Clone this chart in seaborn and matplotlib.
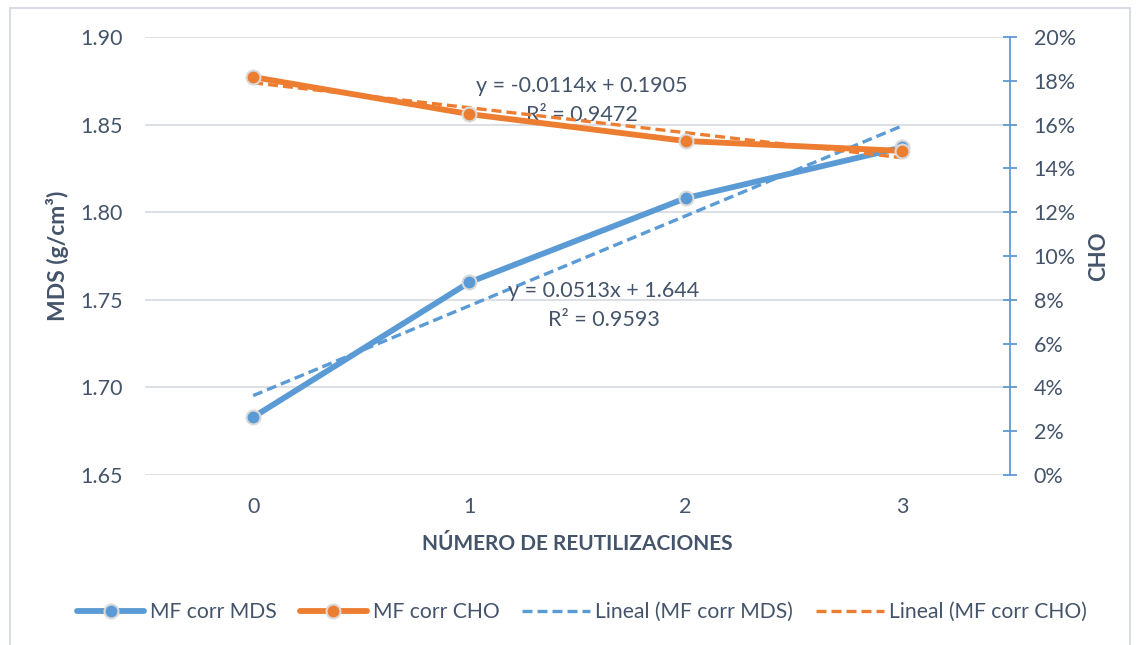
import numpy as np
import pandas as pd
import seaborn as sns
import matplotlib.pyplot as plt
from matplotlib.lines import Line2D
from matplotlib.patches import Rectangle
from matplotlib.ticker import PercentFormatter

# data
reuses = [0, 1, 2, 3]
mds = [1.683, 1.760, 1.808, 1.837]
cho = [0.1817, 0.1648, 0.1525, 0.1480]

# trendline coefficients shown on the chart (x = 1..4 in Excel)
mds_slope, mds_icpt = 0.0513, 1.644
cho_slope, cho_icpt = -0.0114, 0.1905

blue = "#5B9BD5"
orange = "#ED7D31"
txt = "#44546A"
grid = "#D9DDE3"

sns.set_theme(style="white")
plt.rcParams["font.family"] = ["Lato", "DejaVu Sans"]
plt.rcParams["text.color"] = txt

df = pd.DataFrame({"reuses": reuses, "mds": mds, "cho": cho})
xs = np.array(reuses)
df["mds_trend"] = mds_slope * (xs + 1) + mds_icpt
df["cho_trend"] = cho_slope * (xs + 1) + cho_icpt

fig = plt.figure(figsize=(11.4, 6.45), dpi=100)
ax = fig.add_axes([145 / 1140, 1 - 475 / 645, (1010 - 145) / 1140, (475 - 37) / 645])
ax2 = ax.twinx()

mk = dict(marker="o", markersize=10, markeredgecolor="#D9D9D9", markeredgewidth=1.5)
dash = (0, (3, 1.5))

sns.lineplot(data=df, x="reuses", y="mds_trend", ax=ax, color=blue, lw=2.4,
             linestyle=dash, zorder=2)
sns.lineplot(data=df, x="reuses", y="mds", ax=ax, color=blue, lw=4.2, zorder=3, **mk)
sns.lineplot(data=df, x="reuses", y="cho_trend", ax=ax2, color=orange, lw=2.4,
             linestyle=dash, zorder=2)
sns.lineplot(data=df, x="reuses", y="cho", ax=ax2, color=orange, lw=4.2, zorder=3, **mk)

ax.set_xlim(-0.5, 3.5)
ax.set_ylim(1.65, 1.90)
ax.set_yticks(np.arange(1.65, 1.901, 0.05))
ax.yaxis.set_major_formatter(lambda v, p: f"{v:.2f}")
ax.set_xticks(reuses)
ax.yaxis.grid(True, color=grid, lw=1.3)
ax.set_axisbelow(True)
for s in ax.spines.values():
    s.set_visible(False)
ax.tick_params(axis="both", colors=txt, labelsize=15.5, length=0)
ax.tick_params(axis="x", pad=16)
ax.tick_params(axis="y", pad=16)
ax.set_xlabel("NÚMERO DE REUTILIZACIONES", fontsize=15, fontweight="bold", color=txt, labelpad=12)
ax.set_ylabel("MDS (g/cm³)", fontsize=16.5, fontweight="bold", color=txt, labelpad=8)

ax2.set_ylim(0, 0.20)
ax2.set_yticks(np.arange(0, 0.201, 0.02))
ax2.yaxis.set_major_formatter(PercentFormatter(1.0, decimals=0))
for s in ["top", "left", "bottom"]:
    ax2.spines[s].set_visible(False)
ax2.spines["right"].set_color(blue)
ax2.spines["right"].set_linewidth(1.3)
ax2.tick_params(axis="y", colors=blue, labelcolor=txt, labelsize=15.5, direction="inout",
                length=10, width=1.3, pad=12)
ax2.set_ylabel("CHO", fontsize=16, fontweight="bold", color=txt, labelpad=9)
ax2.set_xlabel("")

# trendline equations
ax.text(1.52, 1.872, "y = -0.0114x + 0.1905", ha="center", va="center", fontsize=15.5, color=txt)
ax.text(1.52, 1.8555, "R² = 0.9472", ha="center", va="center", fontsize=15.5, color=txt)
ax.text(1.62, 1.755, "y = 0.0513x + 1.644", ha="center", va="center", fontsize=15.5, color=txt)
ax.text(1.62, 1.7385, "R² = 0.9593", ha="center", va="center", fontsize=15.5, color=txt)

handles = [
    Line2D([], [], color=blue, lw=4.2, **mk),
    Line2D([], [], color=orange, lw=4.2, **mk),
    Line2D([], [], color=blue, lw=2.4, linestyle=dash),
    Line2D([], [], color=orange, lw=2.4, linestyle=dash),
]
labels = ["MF corr MDS", "MF corr CHO", "Lineal (MF corr MDS)", "Lineal (MF corr CHO)"]
fig.legend(handles, labels, loc="center", bbox_to_anchor=(582 / 1140, 1 - 612 / 645), ncol=4,
           frameon=False, fontsize=15.2, handlelength=3.2, handletextpad=0.25, columnspacing=1.1,
           labelcolor=txt)

fig.patches.append(Rectangle((10 / 1140, -0.01), 1120 / 1140, 1 - 8 / 645 + 0.01,
                             transform=fig.transFigure, fill=False, edgecolor="#D9DDE3", lw=1.5))

fig.savefig("out.png", dpi=100)
